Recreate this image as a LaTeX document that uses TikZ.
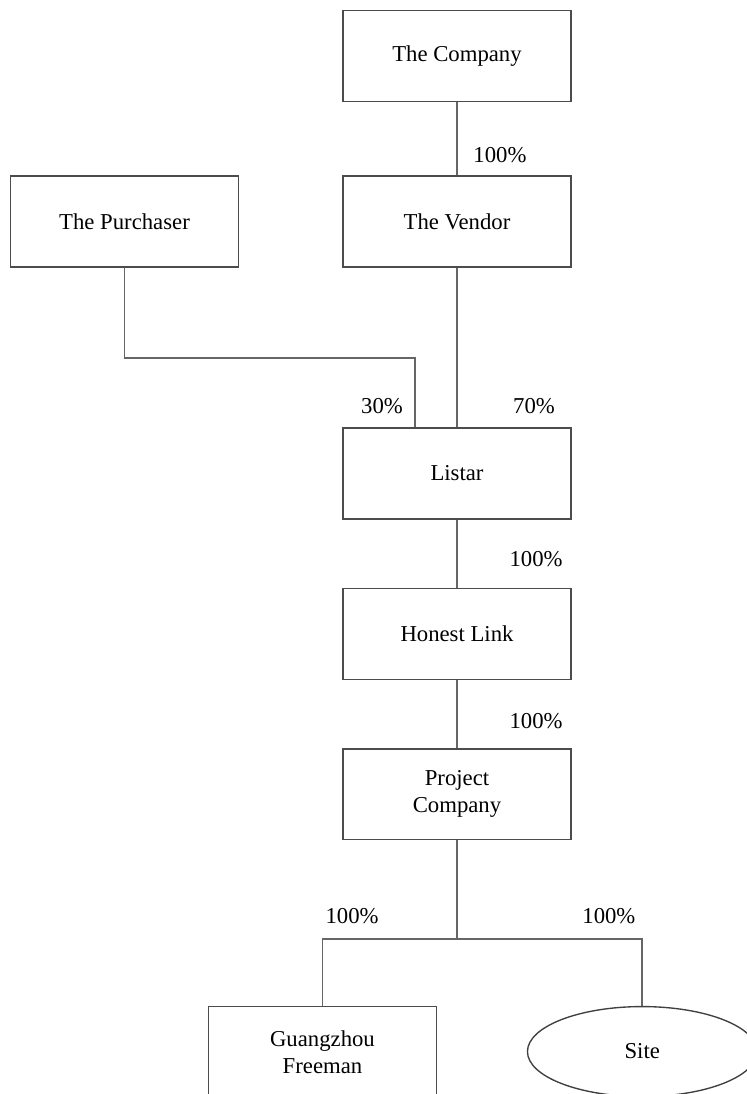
\documentclass[tikz,border=0pt]{standalone}
\usepackage{fontspec}
\setmainfont{Liberation Serif}
\usetikzlibrary{positioning,shapes.geometric}

\begin{document}
\begin{tikzpicture}[
  x=0.44pt, y=-0.44pt,
  ent/.style={draw=black!70, line width=0.7pt, minimum width=100.3pt, minimum height=40pt, align=center},
  asset/.style={ellipse, draw=black!75, line width=0.6pt, minimum width=101pt, minimum height=39.6pt, inner sep=0pt},
  link/.style={draw=black!60, line width=0.7pt},
  lab/.style={inner sep=0pt}
]
  \useasboundingbox (0,0) rectangle (746,1094);

  \node[ent] (company) at (457,56) {The Company};
  \node[ent, below=32.2pt of company] (vendor) {The Vendor};
  \node[ent, left=45.3pt of vendor] (purchaser) {The Purchaser};
  \node[ent, below=70pt of vendor] (listar) {Listar};
  \node[ent, below=30pt of listar] (honest) {Honest Link};
  \node[ent, below=29.8pt of honest] (project) {Project\\Company};
  \node[ent, below=72.8pt of project, xshift=-59.2pt] (guangzhou) {Guangzhou\\Freeman};
  \node[asset, below=72.8pt of project, xshift=81.5pt] (site) {Site};

  \coordinate (pjoin) at (415,358);
  \coordinate (split) at (457,939);

  \draw[link] (company) -- node[lab, pos=0.72, xshift=18.9pt] {100\%} (vendor);
  \draw[link] (vendor) -- node[lab, pos=0.87, xshift=33.9pt] {70\%} (listar);
  \draw[link] (purchaser.south) |- (pjoin) -- node[lab, pos=0.7, xshift=-14.5pt] {30\%} (pjoin |- listar.north);
  \draw[link] (listar) -- node[lab, pos=0.58, xshift=34.8pt] {100\%} (honest);
  \draw[link] (honest) -- node[lab, pos=0.61, xshift=34.8pt] {100\%} (project);
  \draw[link] (project) -- (split);
  \draw[link] (guangzhou.north) |- node[lab, pos=0.61, yshift=10pt] {100\%} (split)
    -| node[lab, pos=0.41, yshift=10pt] {100\%} (site.north);
\end{tikzpicture}
\end{document}
